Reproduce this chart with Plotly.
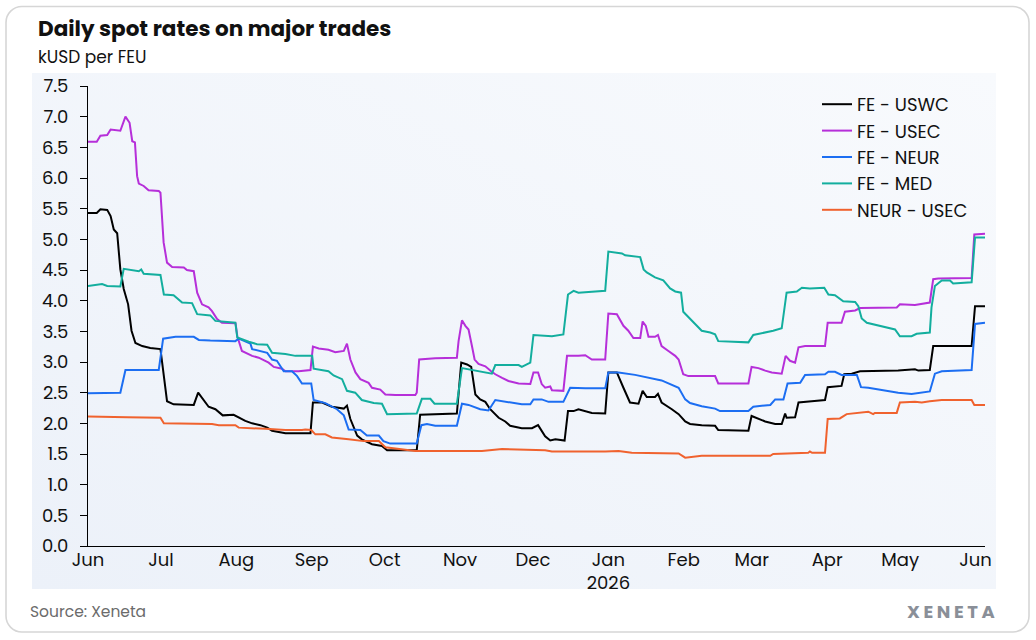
import base64
import pandas as pd
import plotly.graph_objects as go

# ---------------- data ----------------
START = "2025-06-01"   # day 0 of the day offsets below

uswc_days = [0, 3.6, 5.1, 7.9, 9.3, 10.6, 12.0, 13.3, 14.7, 16.5,
             17.9, 19.5, 22.3, 25.6, 29.8, 31.2, 32.5, 35.2, 43.5, 45.3,
             46.9, 49.6, 52.4, 55.4, 59.9, 62.6, 64.7, 67.5, 70.9, 73.7,
             75.7, 81.2, 91.5, 92.5, 96.3, 100.3, 105.2, 106.5, 107.9, 110.7,
             112.6, 116.8, 120.9, 123.0, 135.2, 136.6, 142.8, 151.7, 153.5, 155.9,
             157.6, 159.3, 161.3, 163.4, 165.4, 168.9, 171.6, 173.6, 178.4, 182.6,
             185.1, 186.6, 188.0, 190.1, 192.2, 196.0, 197.4, 199.7, 201.7, 207.2,
             212.7, 214.0, 217.5, 220.2, 222.9, 226.4, 228.1, 229.8, 233.2, 234.4,
             235.9, 240.1, 242.9, 245.6, 247.6, 252.4, 257.9, 259.2, 271.6, 272.9,
             275.7, 278.5, 282.6, 285.3, 286.7, 287.3, 290.8, 292.2, 297.6, 303.1,
             304.2, 309.9, 311.0, 314.1, 317.5, 333.2, 340.1, 341.5, 346.2, 347.6,
             363.4, 364.8, 368.9]
uswc_vals = [5.43, 5.43, 5.49, 5.48, 5.38, 5.16, 5.10, 4.51, 4.19, 3.94,
             3.51, 3.31, 3.26, 3.23, 3.21, 2.72, 2.36, 2.31, 2.30, 2.50,
             2.42, 2.27, 2.23, 2.13, 2.14, 2.08, 2.04, 2.00, 1.97, 1.93,
             1.88, 1.84, 1.84, 2.34, 2.34, 2.27, 2.24, 2.29, 2.07, 1.80,
             1.74, 1.66, 1.63, 1.56, 1.56, 2.14, 2.15, 2.16, 2.99, 2.96,
             2.92, 2.47, 2.39, 2.35, 2.23, 2.09, 2.03, 1.96, 1.92, 1.92,
             1.97, 1.88, 1.79, 1.72, 1.74, 1.72, 2.20, 2.20, 2.23, 2.17,
             2.16, 2.83, 2.83, 2.58, 2.34, 2.32, 2.53, 2.43, 2.43, 2.48,
             2.34, 2.23, 2.15, 2.03, 1.99, 1.97, 1.96, 1.89, 1.88, 2.12,
             2.07, 2.03, 1.99, 1.99, 2.16, 2.09, 2.10, 2.34, 2.36, 2.38,
             2.59, 2.61, 2.80, 2.81, 2.85, 2.86, 2.88, 2.86, 2.87, 3.26,
             3.26, 3.91, 3.91]

usec_days = [0, 3.6, 5.1, 7.9, 9.3, 12.6, 13.3, 15.4, 17.1, 18.2,
             19.3, 20.2, 20.9, 22.9, 24.9, 29.1, 29.8, 31.1, 32.5, 34.6,
             39.4, 40.7, 43.5, 44.9, 46.9, 49.6, 51.0, 53.1, 55.1, 60.7,
             61.4, 63.3, 64.7, 67.5, 70.2, 74.3, 76.4, 79.8, 81.2, 86.6,
             91.5, 92.5, 94.9, 98.9, 101.7, 105.2, 106.5, 107.9, 110.0, 112.0,
             115.4, 116.8, 120.2, 122.3, 126.4, 134.6, 135.2, 136.2, 142.8, 151.7,
             152.4, 153.8, 155.2, 156.5, 157.9, 159.0, 160.6, 163.4, 165.8, 167.5,
             170.3, 172.9, 177.1, 181.9, 183.2, 185.1, 186.6, 188.0, 190.1, 190.8,
             195.5, 197.0, 201.7, 204.5, 207.2, 212.7, 214.0, 217.5, 220.2, 222.2,
             224.3, 227.1, 228.1, 229.4, 230.5, 233.2, 234.4, 235.9, 238.7, 241.5,
             242.9, 244.8, 246.9, 257.9, 259.2, 271.6, 272.9, 275.7, 278.5, 281.2,
             285.3, 286.9, 288.7, 290.8, 292.2, 294.9, 303.1, 304.2, 309.9, 311.3,
             315.5, 317.5, 332.6, 333.9, 340.1, 346.2, 347.6, 349.7, 363.4, 364.5,
             368.9]
usec_vals = [6.59, 6.59, 6.69, 6.70, 6.79, 6.78, 6.77, 7.00, 6.90, 6.60,
             6.58, 6.03, 5.91, 5.87, 5.80, 5.79, 5.76, 4.95, 4.62, 4.55,
             4.54, 4.50, 4.48, 4.13, 3.94, 3.89, 3.83, 3.70, 3.64, 3.63,
             3.42, 3.18, 3.15, 3.10, 3.07, 2.99, 2.92, 2.89, 2.85, 2.85,
             2.87, 3.25, 3.22, 3.20, 3.16, 3.18, 3.30, 3.04, 2.83, 2.72,
             2.66, 2.58, 2.55, 2.47, 2.46, 2.46, 2.50, 3.04, 3.06, 3.07,
             3.34, 3.68, 3.59, 3.53, 3.26, 3.04, 2.97, 2.93, 2.85, 2.80,
             2.74, 2.69, 2.65, 2.64, 2.83, 2.83, 2.64, 2.58, 2.60, 2.54,
             2.53, 3.10, 3.10, 3.11, 3.04, 3.04, 3.79, 3.78, 3.59, 3.51,
             3.39, 3.39, 3.66, 3.59, 3.41, 3.41, 3.44, 3.26, 3.18, 3.10,
             3.04, 2.80, 2.77, 2.77, 2.65, 2.65, 2.92, 2.90, 2.86, 2.83,
             2.81, 3.10, 3.02, 2.99, 3.24, 3.26, 3.26, 3.64, 3.64, 3.82,
             3.84, 3.88, 3.89, 3.94, 3.93, 3.97, 4.35, 4.36, 4.37, 5.08,
             5.09]

neur_days = [0, 13.3, 15.4, 29.1, 30.9, 36.0, 43.5, 45.6, 50.3, 60.6,
             62.0, 64.7, 66.8, 67.5, 70.9, 73.7, 75.7, 77.7, 80.5, 83.9,
             86.0, 88.0, 91.8, 92.8, 97.6, 102.4, 105.2, 107.2, 112.0, 114.7,
             119.6, 121.5, 124.3, 135.2, 137.1, 139.4, 142.8, 151.7, 153.8, 156.5,
             161.3, 164.7, 167.5, 172.9, 178.4, 181.9, 183.2, 186.6, 189.4, 195.5,
             198.3, 204.5, 212.7, 214.0, 218.2, 225.0, 230.5, 235.9, 242.9, 245.6,
             247.6, 252.4, 257.9, 259.9, 271.6, 273.6, 280.6, 282.6, 286.0, 287.7,
             292.9, 294.9, 303.1, 304.5, 307.2, 309.9, 316.2, 317.9, 320.9, 326.4,
             333.2, 338.7, 346.2, 348.3, 351.1, 363.4, 364.8, 368.9]
neur_vals = [2.49, 2.50, 2.87, 2.87, 3.38, 3.41, 3.41, 3.36, 3.35, 3.34,
             3.38, 3.34, 3.30, 3.21, 3.18, 3.15, 3.04, 3.02, 2.85, 2.85,
             2.77, 2.65, 2.65, 2.38, 2.33, 2.23, 2.13, 1.90, 1.89, 1.80,
             1.80, 1.71, 1.67, 1.67, 1.97, 1.99, 1.96, 1.96, 2.32, 2.30,
             2.23, 2.21, 2.38, 2.35, 2.31, 2.31, 2.39, 2.39, 2.35, 2.35,
             2.58, 2.57, 2.57, 2.83, 2.83, 2.79, 2.74, 2.70, 2.58, 2.39,
             2.33, 2.28, 2.24, 2.20, 2.20, 2.27, 2.30, 2.39, 2.39, 2.65,
             2.66, 2.79, 2.80, 2.84, 2.84, 2.79, 2.79, 2.59, 2.58, 2.54,
             2.50, 2.48, 2.52, 2.81, 2.85, 2.87, 3.62, 3.64]

med_days = [0, 3.0, 5.8, 7.9, 13.3, 14.7, 18.2, 20.9, 21.9, 22.9,
            29.8, 31.2, 35.2, 38.7, 42.8, 44.9, 50.3, 52.4, 60.6, 61.4,
            66.1, 69.5, 73.7, 75.7, 81.2, 85.3, 92.2, 92.8, 98.9, 101.0,
            104.5, 106.5, 109.9, 112.6, 117.5, 120.9, 123.0, 135.2, 137.3, 140.8,
            142.5, 151.7, 153.8, 159.3, 162.0, 166.1, 167.5, 177.1, 178.4, 181.9,
            183.2, 190.8, 195.5, 197.4, 199.7, 201.7, 212.7, 214.0, 219.6, 220.9,
            227.1, 228.5, 229.8, 233.2, 236.6, 239.4, 241.5, 243.9, 244.8, 247.6,
            249.7, 252.4, 255.9, 257.9, 259.2, 266.1, 271.6, 273.6, 278.5, 281.8,
            285.3, 287.3, 291.5, 293.6, 296.9, 302.8, 304.5, 307.2, 310.6, 315.5,
            316.8, 318.2, 320.3, 323.6, 327.8, 331.9, 333.9, 338.7, 340.8, 346.2,
            346.9, 348.3, 351.1, 354.5, 355.8, 363.4, 364.8, 368.9]
med_vals = [4.24, 4.25, 4.27, 4.24, 4.23, 4.52, 4.50, 4.48, 4.51, 4.44,
            4.42, 4.10, 4.09, 3.97, 3.96, 3.78, 3.76, 3.67, 3.64, 3.40,
            3.33, 3.29, 3.28, 3.15, 3.13, 3.10, 3.10, 2.89, 2.85, 2.78,
            2.72, 2.53, 2.50, 2.38, 2.33, 2.32, 2.15, 2.16, 2.40, 2.40,
            2.32, 2.32, 2.90, 2.86, 2.83, 2.81, 2.95, 2.95, 2.92, 2.99,
            3.44, 3.42, 3.45, 4.10, 4.16, 4.13, 4.16, 4.80, 4.77, 4.74,
            4.71, 4.51, 4.46, 4.38, 4.33, 4.20, 4.15, 4.13, 3.82, 3.70,
            3.61, 3.51, 3.48, 3.45, 3.34, 3.33, 3.32, 3.44, 3.48, 3.51,
            3.55, 4.13, 4.15, 4.21, 4.20, 4.21, 4.10, 4.09, 3.99, 3.98,
            3.91, 3.71, 3.64, 3.61, 3.57, 3.53, 3.42, 3.42, 3.46, 3.48,
            3.89, 4.24, 4.33, 4.33, 4.28, 4.30, 5.03, 5.03]

neur_usec_days = [0, 15.4, 16.1, 29.8, 31.2, 51.0, 53.8, 60.6, 62.0, 72.9,
                  81.2, 88.0, 89.4, 91.8, 93.5, 97.6, 100.3, 107.2, 113.3, 119.6,
                  122.3, 134.6, 152.4, 154.5, 162.0, 170.3, 188.0, 190.8, 212.7, 218.2,
                  223.6, 241.5, 242.9, 245.6, 248.3, 252.4, 280.6, 281.8, 296.2, 296.9,
                  297.8, 303.1, 304.2, 309.2, 312.0, 316.8, 320.9, 322.9, 323.6, 332.6,
                  333.9, 340.1, 342.9, 346.2, 351.1, 363.4, 364.5, 368.9]
neur_usec_vals = [2.11, 2.11, 2.10, 2.09, 2.00, 1.99, 1.97, 1.97, 1.93, 1.91,
                  1.89, 1.89, 1.90, 1.89, 1.82, 1.82, 1.77, 1.74, 1.71, 1.71,
                  1.61, 1.55, 1.54, 1.55, 1.55, 1.58, 1.56, 1.54, 1.54, 1.55,
                  1.52, 1.52, 1.51, 1.44, 1.45, 1.47, 1.47, 1.50, 1.52, 1.54,
                  1.52, 1.52, 2.07, 2.08, 2.15, 2.17, 2.19, 2.15, 2.17, 2.17,
                  2.34, 2.35, 2.34, 2.36, 2.38, 2.38, 2.30, 2.30]

series_names = ["FE - USWC", "FE - USEC", "FE - NEUR", "FE - MED", "NEUR - USEC"]
series_days = [uswc_days, usec_days, neur_days, med_days, neur_usec_days]
series_vals = [uswc_vals, usec_vals, neur_vals, med_vals, neur_usec_vals]
series_colors = ["#000000", "#B62FD9", "#1C6EF2", "#13AE9E", "#F0622E"]

tick_dates = ["2025-06-01", "2025-07-01", "2025-08-01", "2025-09-01", "2025-10-01",
              "2025-11-01", "2025-12-01", "2026-01-01", "2026-02-01", "2026-03-01",
              "2026-04-01", "2026-05-01", "2026-06-01"]
tick_labels = ["Jun", "Jul", "Aug", "Sep", "Oct", "Nov", "Dec", "Jan<br>2026",
               "Feb", "Mar", "Apr", "May", "Jun"]

TITLE = "Daily spot rates on major trades"
SUBTITLE = "kUSD per FEU"
SOURCE = "Source: Xeneta"
LOGO = "XENETA"

# ---------------- figure ----------------
W, H = 1036, 640
ML, MR, MT, MB = 88, 51, 86, 94
PW, PH = W - ML - MR, H - MT - MB
FONT = "Poppins, 'Open Sans', sans-serif"


def px_x(px):
    return (px - ML) / PW


def px_y(py):
    return (H - MB - py) / PH


start = pd.Timestamp(START)
fig = go.Figure()
for name, days, vals, col in zip(series_names, series_days, series_vals, series_colors):
    dates = start + pd.to_timedelta(days, unit="D")
    fig.add_trace(go.Scatter(
        x=dates, y=vals, mode="lines", name=name, legendgroup=name,
        line=dict(color=col, width=2), hoverinfo="skip"))

svg = (
    "<svg xmlns='http://www.w3.org/2000/svg' width='1036' height='640' viewBox='0 0 1036 640'>"
    "<defs><linearGradient id='g' x1='0' y1='1' x2='1' y2='0'>"
    "<stop offset='0' stop-color='#ECF1F9'/><stop offset='1' stop-color='#F8FAFD'/>"
    "</linearGradient></defs>"
    "<rect x='6' y='6.5' width='1023' height='625.5' rx='16' ry='16' fill='#FFFFFF' "
    "stroke='#D6D6D6' stroke-width='1.6'/>"
    "<rect x='32' y='73' width='964' height='516' fill='url(#g)'/>"
    "</svg>")
uri = "data:image/svg+xml;base64," + base64.b64encode(svg.encode()).decode()

fig.add_layout_image(dict(
    source=uri, xref="paper", yref="paper",
    x=px_x(0), y=px_y(0), sizex=W / PW, sizey=H / PH,
    xanchor="left", yanchor="top", sizing="stretch", layer="below"))

fig.add_annotation(text=f"<b>{TITLE}</b>", xref="paper", yref="paper",
                   x=px_x(37), y=px_y(28), xanchor="left", yanchor="middle",
                   showarrow=False, borderpad=0,
                   font=dict(family=FONT, size=21.5, color="#111111"))
fig.add_annotation(text=SUBTITLE, xref="paper", yref="paper",
                   x=px_x(37), y=px_y(56.5), xanchor="left", yanchor="middle",
                   showarrow=False, borderpad=0,
                   font=dict(family=FONT, size=17, color="#111111"))
fig.add_annotation(text=SOURCE, xref="paper", yref="paper",
                   x=px_x(28), y=px_y(611), xanchor="left", yanchor="middle",
                   showarrow=False, font=dict(family=FONT, size=15.5, color="#6B6B6B"))
fig.add_annotation(text="<b>" + "\u2009".join(LOGO) + "</b>", xref="paper", yref="paper",
                   x=px_x(997), y=px_y(611), xanchor="right", yanchor="middle",
                   showarrow=False, font=dict(family=FONT, size=18, color="#8A8F98"))

fig.update_layout(
    width=W, height=H,
    margin=dict(l=ML, r=MR, t=MT, b=MB, pad=0),
    paper_bgcolor="#FFFFFF", plot_bgcolor="rgba(0,0,0,0)",
    font=dict(family=FONT, size=18, color="#111111"),
    showlegend=True,
    legend=dict(x=px_x(817), y=px_y(86), xanchor="left", yanchor="top",
                bgcolor="rgba(0,0,0,0)", font=dict(family=FONT, size=18, color="#111111"),
                tracegroupgap=0, itemwidth=30),
    xaxis=dict(type="date",
               range=[start, start + pd.Timedelta(days=368.9)],
               tickmode="array", tickvals=tick_dates, ticktext=tick_labels,
               showline=True, linecolor="#000000", linewidth=1,
               ticks="", showgrid=False, zeroline=False, ticklabelstandoff=-3,
               tickfont=dict(family=FONT, size=18, color="#111111")),
    yaxis=dict(range=[0, 7.5], dtick=0.5, tick0=0, tickformat=".1f",
               showline=True, linecolor="#000000", linewidth=1,
               ticks="outside", ticklen=7, tickwidth=1, tickcolor="#000000",
               showgrid=False, zeroline=False, ticklabelstandoff=8,
               tickfont=dict(family=FONT, size=18, color="#111111")),
)

fig.write_html("out.html")
